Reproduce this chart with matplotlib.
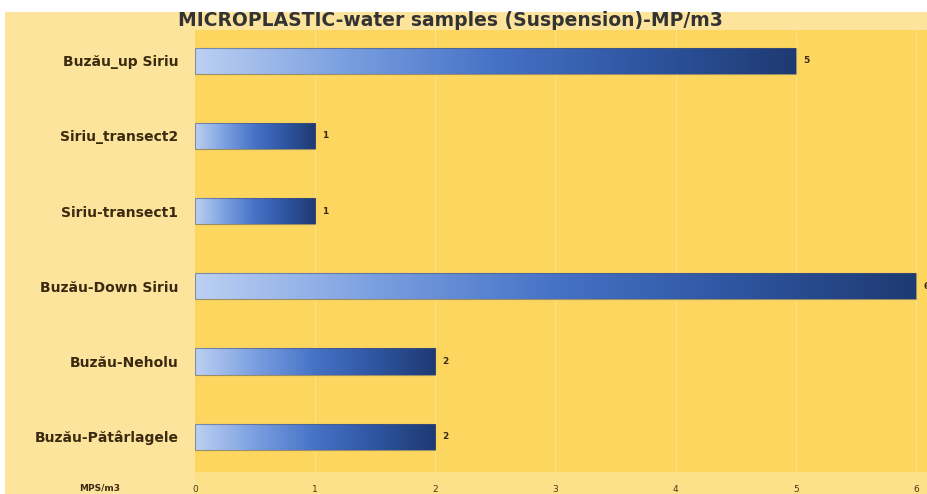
import matplotlib
matplotlib.use("Agg")
import matplotlib.pyplot as plt
import numpy as np
from matplotlib.colors import LinearSegmentedColormap
from matplotlib.patches import Rectangle

categories = ["Buzău_up Siriu", "Siriu_transect2", "Siriu-transect1",
              "Buzău-Down Siriu", "Buzău-Neholu", "Buzău-Pătârlagele"]
values = [5, 1, 1, 6, 2, 2]
xticks = [0, 1, 2, 3, 4, 5, 6]
title = "MICROPLASTIC-water samples (Suspension)-MP/m3"
xlabel = "MPS/m3"

fig = plt.figure(figsize=(9.28, 4.94), dpi=100)
fig.patch.set_facecolor("white")
# light yellow panel
fig.patches.append(Rectangle((5/928, 0), 1, 1 - 12/494, transform=fig.transFigure,
                             facecolor="#fde49c", edgecolor="none", zorder=-10))
fig.patches.append(Rectangle((195/928, 0), 1, 22/494, transform=fig.transFigure,
                             facecolor="#fde08a", edgecolor="none", zorder=-9))

ax = fig.add_axes([195/928, 22/494, 733/928, 442/494])
ax.set_facecolor("#fdd660")
n = len(categories)
y = np.arange(n)
ylim = (n - 1 + 0.47, -0.41)
xlim = (0, 6.1)

cmap = LinearSegmentedColormap.from_list("g", ["#bcd0f2", "#7a9fe0", "#4672c6", "#2e55a0", "#1e3a72"])
grad = np.linspace(0, 1, 256).reshape(1, -1)
h = 0.35
for yi, v in zip(y, values):
    bar = ax.barh(yi, v, height=h, color="none", edgecolor=(0.29, 0.33, 0.44, 0.55),
                  lw=0.8, zorder=3)[0]
    im = ax.imshow(grad, cmap=cmap, aspect="auto",
                   extent=[0, v, yi + h/2, yi - h/2], zorder=2)
    im.set_clip_path(bar)
    ax.text(v + 0.06, yi, str(v), va="center", ha="left", fontsize=6.5,
            fontweight="bold", color="#3a2a10", clip_on=True)

for xt in xticks[1:]:
    ax.axvline(xt, color="#fde07e", lw=1, zorder=0)

ax.set_xlim(*xlim)
ax.set_ylim(*ylim)
for s in ax.spines.values():
    s.set_visible(False)
ax.set_xticks(xticks)
ax.set_xticklabels([str(t) for t in xticks], fontsize=6.5, color="#4a3a10")
ax.tick_params(axis="x", length=0, pad=9)
ax.set_yticks(y)
ax.set_yticklabels(categories, fontsize=10, fontweight="bold", color="#3a2a10")
ax.tick_params(axis="y", length=0, pad=12)

fig.text(100/928, 1 - 488/494, xlabel, fontsize=6.5, fontweight="bold",
         color="#3a2a10", ha="center", va="center")
fig.text(450/928, 1 - 20/494, title, fontsize=13.5, fontweight="bold",
         color="#333333", ha="center", va="center")

fig.savefig("out.png", dpi=100)
